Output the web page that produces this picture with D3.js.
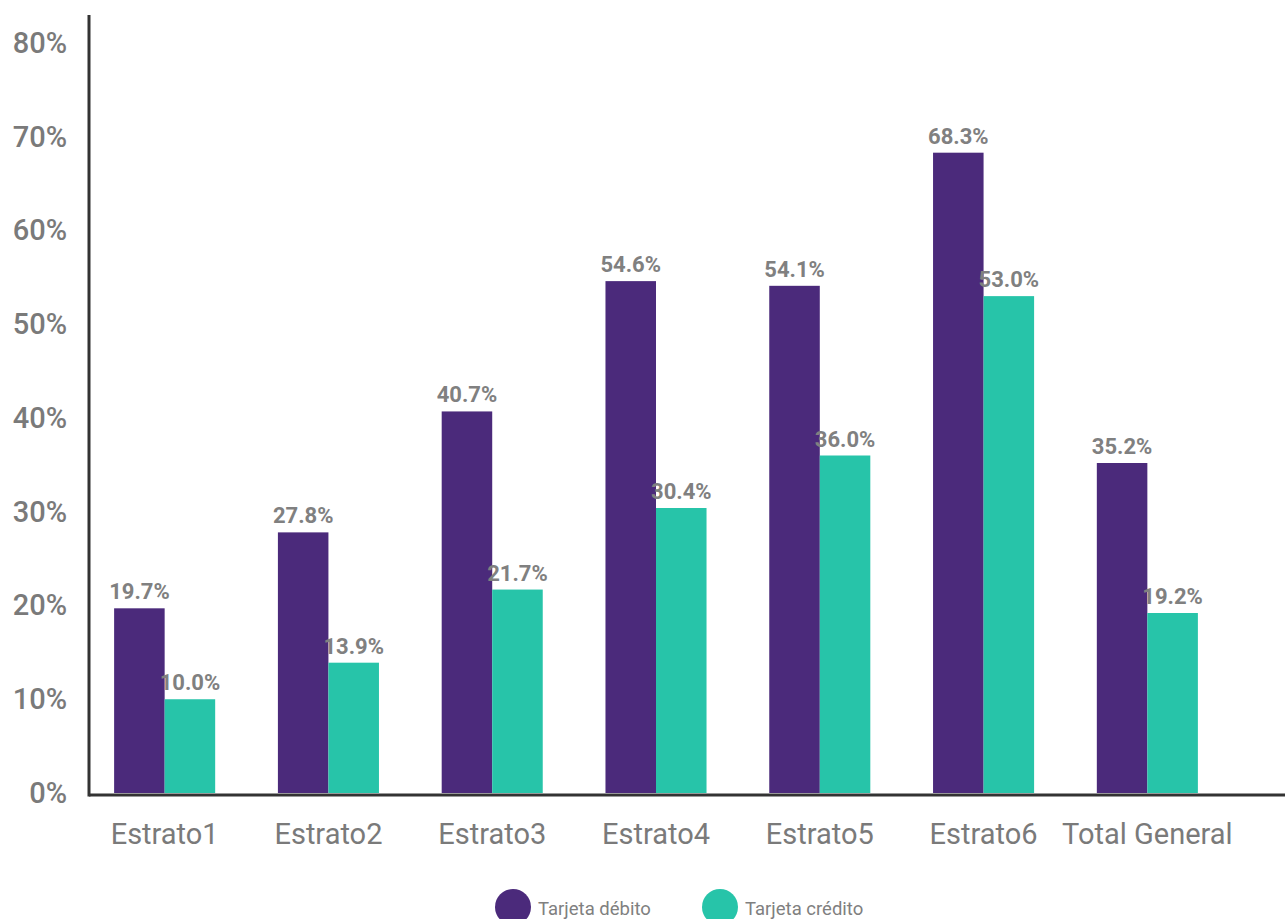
<!DOCTYPE html>
<html>
<head>
<meta charset="utf-8">
<script src="https://cdn.jsdelivr.net/npm/d3@7"></script>
<style>
  html, body { margin: 0; padding: 0; background: #fff; }
  svg { display: block; font-family: Roboto, "Noto Sans", sans-serif; }
</style>
</head>
<body>
<svg id="chart" width="1285" height="919"></svg>
<script>
// Categories, series values (percent) and tick labels
const categories = ["Estrato1", "Estrato2", "Estrato3", "Estrato4", "Estrato5", "Estrato6", "Total General"];
const debito = [19.7, 27.8, 40.7, 54.6, 54.1, 68.3, 35.2];
const credito = [10.0, 13.9, 21.7, 30.4, 36.0, 53.0, 19.2];
const seriesNames = ["Tarjeta débito", "Tarjeta crédito"];
const yTicks = [0, 10, 20, 30, 40, 50, 60, 70, 80];

const colors = ["#4B2A7B", "#27C4A9"];
const series = [debito, credito];

const svg = d3.select("#chart");

const x = d3.scaleBand()
  .domain(categories)
  .range([83, 1229])
  .paddingInner(0.383)
  .paddingOuter(0.19);

const xSub = d3.scaleBand()
  .domain(d3.range(series.length))
  .range([0, x.bandwidth()]);

const y = d3.scaleLinear().domain([0, 80]).range([793, 43]);

// Y tick labels (no tick marks)
const yAxis = d3.axisLeft(y)
  .tickValues(yTicks)
  .tickFormat(d => d + "%")
  .tickSize(0)
  .tickPadding(0);

const gy = svg.append("g").attr("transform", "translate(67,0)").call(yAxis);
gy.select(".domain").remove();
gy.selectAll("text")
  .attr("fill", "#7a7a7a")
  .style("font-size", "29px")
  .style("font-weight", "500")
  .style("font-family", "Roboto, sans-serif");

// Bars
const groups = svg.append("g").selectAll("g")
  .data(categories)
  .join("g")
  .attr("transform", d => `translate(${x(d)},0)`);

series.forEach((vals, si) => {
  groups.append("rect")
    .attr("x", xSub(si))
    .attr("width", xSub.bandwidth())
    .attr("y", (d, i) => y(vals[i]))
    .attr("height", (d, i) => y(0) - y(vals[i]))
    .attr("fill", colors[si]);

  groups.append("text")
    .attr("x", xSub(si) + xSub.bandwidth() / 2)
    .attr("y", (d, i) => y(vals[i]) - 9)
    .attr("text-anchor", "middle")
    .attr("fill", "#808080")
    .style("font-size", "22px")
    .style("font-weight", "700")
    .text((d, i) => vals[i].toFixed(1) + "%");
});

// Category labels
const xAxis = d3.axisBottom(x).tickSize(0).tickPadding(0);
const gx = svg.append("g").attr("transform", "translate(0,795)").call(xAxis);
gx.select(".domain").remove();
gx.selectAll("text")
  .attr("y", 49)
  .attr("dy", 0)
  .attr("fill", "#7a7a7a")
  .style("font-size", "29px")
  .style("font-family", "Roboto, sans-serif");

// Axis lines
svg.append("line")
  .attr("x1", 89).attr("x2", 1285)
  .attr("y1", 795).attr("y2", 795)
  .attr("stroke", "#333").attr("stroke-width", 3);
svg.append("line")
  .attr("x1", 89).attr("x2", 89)
  .attr("y1", 15).attr("y2", 796.5)
  .attr("stroke", "#333").attr("stroke-width", 3);

// Legend
const legendX = [513, 720];
const legend = svg.append("g").selectAll("g")
  .data(seriesNames)
  .join("g")
  .attr("transform", (d, i) => `translate(${legendX[i]},907)`);
legend.append("circle").attr("r", 18).attr("fill", (d, i) => colors[i]);
legend.append("text")
  .attr("x", 25)
  .attr("y", 8)
  .attr("fill", "#808080")
  .style("font-size", "18.5px")
  .text(d => d);
</script>
</body>
</html>
